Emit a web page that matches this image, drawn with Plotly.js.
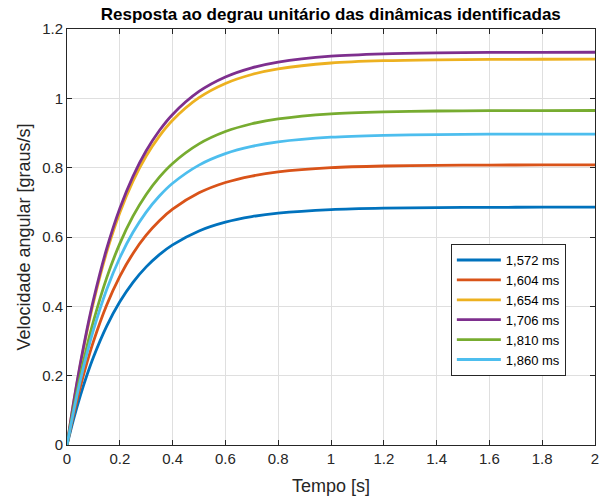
<!DOCTYPE html>
<html>
<head>
<meta charset="utf-8">
<script src="https://cdn.plot.ly/plotly-3.0.1.min.js"></script>
<style>html,body{margin:0;padding:0;background:#fff;}#chart{width:602px;height:500px;}</style>
</head>
<body>
<div id="chart"></div>
<script>
const tempo = [0, 0.025, 0.05, 0.075, 0.1, 0.15, 0.2, 0.25, 0.3, 0.35, 0.4, 0.5, 0.6, 0.7, 0.8, 1.0, 1.2, 1.4, 1.6, 1.8, 2.0];

const seriesNames = ["1,572 ms", "1,604 ms", "1,654 ms", "1,706 ms", "1,810 ms", "1,860 ms"];

const y1572 = [0, 0.0746, 0.1412, 0.2004, 0.2533, 0.3423, 0.4130, 0.4692, 0.5138, 0.5493, 0.5774, 0.6175, 0.6428, 0.6588, 0.6688, 0.6791, 0.6833, 0.6849, 0.6856, 0.6859, 0.6859];
const y1604 = [0, 0.0879, 0.1663, 0.2361, 0.2983, 0.4032, 0.4865, 0.5527, 0.6052, 0.6470, 0.6801, 0.7273, 0.7571, 0.7759, 0.7877, 0.7999, 0.8048, 0.8067, 0.8075, 0.8078, 0.8079];
const y1654 = [0, 0.1211, 0.2291, 0.3252, 0.4109, 0.5554, 0.6701, 0.7613, 0.8336, 0.8912, 0.9368, 1.0018, 1.0429, 1.0688, 1.0851, 1.1019, 1.1085, 1.1112, 1.1123, 1.1128, 1.1129];
const y1706 = [0, 0.1233, 0.2332, 0.3311, 0.4183, 0.5654, 0.6822, 0.7750, 0.8486, 0.9072, 0.9536, 1.0198, 1.0616, 1.0880, 1.1046, 1.1217, 1.1285, 1.1312, 1.1323, 1.1328, 1.1329];
const y1810 = [0, 0.1050, 0.1986, 0.2820, 0.3563, 0.4815, 0.5810, 0.6601, 0.7228, 0.7727, 0.8122, 0.8686, 0.9042, 0.9267, 0.9408, 0.9554, 0.9611, 0.9635, 0.9644, 0.9648, 0.9649];
const y1860 = [0, 0.0976, 0.1846, 0.2621, 0.3312, 0.4476, 0.5401, 0.6135, 0.6719, 0.7182, 0.7550, 0.8074, 0.8405, 0.8614, 0.8745, 0.8880, 0.8934, 0.8956, 0.8965, 0.8968, 0.8969];

const xTicks = [0, 0.2, 0.4, 0.6, 0.8, 1, 1.2, 1.4, 1.6, 1.8, 2];
const xTickText = ["0", "0.2", "0.4", "0.6", "0.8", "1", "1.2", "1.4", "1.6", "1.8", "2"];
const yTicks = [0, 0.2, 0.4, 0.6, 0.8, 1, 1.2];
const yTickText = ["0", "0.2", "0.4", "0.6", "0.8", "1", "1.2"];

const colors = ["#0072BD", "#D95319", "#EDB120", "#7E2F8E", "#77AC30", "#4DBEEE"];
const allY = [y1572, y1604, y1654, y1706, y1810, y1860];

const FONT = "Liberation Sans, Arial, Helvetica, sans-serif";

const traces = allY.map((ys, i) => ({
  x: tempo,
  y: ys,
  type: "scatter",
  mode: "lines",
  name: seriesNames[i],
  line: {color: colors[i], width: 2.8, shape: "spline", smoothing: 0.8}
}));

const axisCommon = {
  showline: true,
  linecolor: "#262626",
  linewidth: 1,
  mirror: "allticks",
  ticks: "inside",
  ticklen: 5,
  tickcolor: "#262626",
  showgrid: true,
  gridcolor: "#dfdfdf",
  gridwidth: 1,
  zeroline: false,
  tickfont: {family: FONT, size: 15, color: "#262626"},
  automargin: false
};

const layout = {
  width: 602,
  height: 500,
  margin: {l: 67, r: 7, t: 29, b: 55},
  paper_bgcolor: "#ffffff",
  plot_bgcolor: "#ffffff",
  showlegend: true,
  title: {
    text: "<b>Resposta ao degrau unitário das dinâmicas identificadas</b>",
    font: {family: FONT, size: 17, color: "#000000"},
    x: 0.5495, xanchor: "center", y: 0.972, yanchor: "middle"
  },
  xaxis: Object.assign({}, axisCommon, {
    range: [0, 2],
    tickvals: xTicks,
    ticktext: xTickText,
    title: {text: "Tempo [s]", font: {family: FONT, size: 18, color: "#262626"}, standoff: 13}
  }),
  yaxis: Object.assign({}, axisCommon, {
    range: [0, 1.2],
    tickvals: yTicks,
    ticktext: yTickText,
    title: {text: "Velocidade angular [graus/s]", font: {family: FONT, size: 18, color: "#262626"}, standoff: 6}
  }),
  legend: {
    x: 0.727, y: 0.483, xanchor: "left", yanchor: "top",
    bgcolor: "#ffffff",
    bordercolor: "#262626",
    borderwidth: 1,
    font: {family: FONT, size: 13, color: "#000000"},
    tracegroupgap: 0,
    itemwidth: 44
  }
};

Plotly.newPlot("chart", traces, layout, {displayModeBar: false, staticPlot: true});
</script>
</body>
</html>
